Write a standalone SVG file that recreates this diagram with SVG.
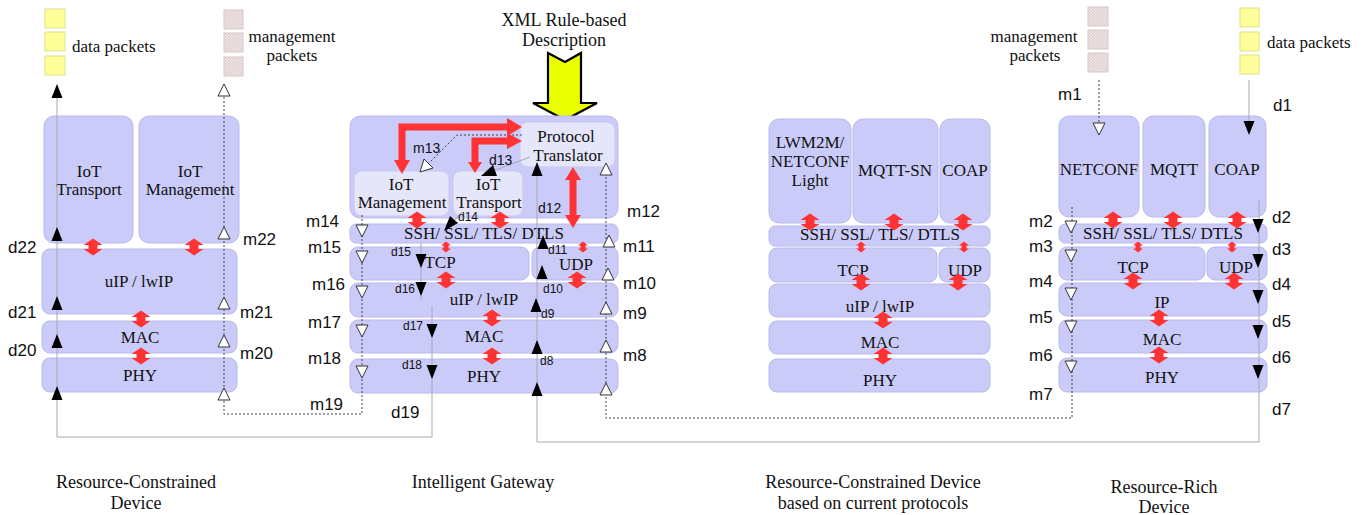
<svg xmlns="http://www.w3.org/2000/svg" width="1364" height="515" viewBox="0 0 1364 515">
<style>
.box{fill:#cbcbf9;stroke:#b9b9ec;stroke-width:1}
.lbox{fill:#e6e6fb;stroke:#c9c9ee;stroke-width:1}
.t{font-family:"Liberation Serif",serif;font-size:17px;fill:#111;text-anchor:middle}
.ts{font-family:"Liberation Serif",serif;font-size:17px;fill:#111;text-anchor:middle}
.cap{font-family:"Liberation Serif",serif;font-size:18px;fill:#111;text-anchor:middle}
.pk{font-family:"Liberation Serif",serif;font-size:17px;fill:#111}
.lb{font-family:"Liberation Sans",sans-serif;font-size:17px;fill:#111}
.sl{font-family:"Liberation Sans",sans-serif;font-size:12px;fill:#111}
.ml{font-family:"Liberation Sans",sans-serif;font-size:14px;fill:#111}
.gl{fill:none;stroke:#a8a8b4;stroke-width:1}
.dl{fill:none;stroke:#444;stroke-width:1;stroke-dasharray:2,2}
.red{fill:#ff3333}
.rl{fill:none;stroke:#ff3333;stroke-width:7}
.dp{fill:#ffff99;stroke:#e0e08a;stroke-width:1}
.mp{fill:url(#chk);stroke:#d8c8c8;stroke-width:1}
</style>
<defs>
<pattern id="chk" width="3" height="3" patternUnits="userSpaceOnUse">
<rect width="3" height="3" fill="#f3e9e9"/>
<rect width="1.5" height="1.5" fill="#ddcccc"/>
<rect x="1.5" y="1.5" width="1.5" height="1.5" fill="#ddcccc"/>
</pattern>
<path id="dbl" class="red" d="M0,-8.5 L9.5,-2 L4.5,-2 L4.5,2 L9.5,2 L0,8.5 L-9.5,2 L-4.5,2 L-4.5,-2 L-9.5,-2 Z"/>
<path id="dbs" class="red" d="M0,-5.5 L5,-1.5 L2.5,-1.5 L2.5,1.5 L5,1.5 L0,5.5 L-5,1.5 L-2.5,1.5 L-2.5,-1.5 L-5,-1.5 Z"/>
<path id="au" d="M0,0 L5.5,14 L-5.5,14 Z" fill="#000"/>
<path id="ad" d="M0,0 L5.5,-14 L-5.5,-14 Z" fill="#000"/>
<path id="hu" d="M0,0 L6,12 L-6,12 Z" fill="#fff" stroke="#333" stroke-width="1"/>
<path id="hd" d="M0,0 L6,-12 L-6,-12 Z" fill="#fff" stroke="#333" stroke-width="1"/>
</defs>
<rect width="1364" height="515" fill="#fff"/>

<!-- Packets -->
<g id="pkt-data-left">
<rect class="dp" x="45" y="9" width="20" height="19"/>
<rect class="dp" x="45" y="32" width="20" height="19"/>
<rect class="dp" x="45" y="56" width="20" height="19"/>
<text class="pk" x="72" y="52">data packets</text>
</g>
<g id="pkt-mgmt-left">
<rect class="mp" x="224" y="10" width="19" height="19"/>
<rect class="mp" x="224" y="33" width="19" height="19"/>
<rect class="mp" x="224" y="57" width="19" height="19"/>
<text class="pk" x="292" y="42" text-anchor="middle">management</text>
<text class="pk" x="292" y="61" text-anchor="middle">packets</text>
</g>
<g id="pkt-mgmt-right">
<rect class="mp" x="1088" y="7" width="20" height="19"/>
<rect class="mp" x="1088" y="30" width="20" height="19"/>
<rect class="mp" x="1088" y="53" width="20" height="19"/>
<text class="pk" x="1034" y="42" text-anchor="middle">management</text>
<text class="pk" x="1035" y="61" text-anchor="middle">packets</text>
</g>
<g id="pkt-data-right">
<rect class="dp" x="1240" y="8" width="19" height="19"/>
<rect class="dp" x="1240" y="32" width="19" height="19"/>
<rect class="dp" x="1240" y="55" width="19" height="19"/>
<text class="pk" x="1267" y="48">data packets</text>
</g>

<!-- XML description -->
<g id="xml">
<text class="cap" x="564" y="26" font-size="19">XML Rule-based</text>
<text class="cap" x="564" y="46" font-size="19">Description</text>
<polygon points="548,53 565,62 581,53 581,103 597,103 565,120 533,103 548,103" fill="#eaff00" stroke="#000" stroke-width="2.2" stroke-linejoin="miter"/>
</g>

<!-- Resource-Constrained Device -->
<g id="rc-device">
<rect class="box" x="44" y="116" width="89" height="127" rx="10"/>
<rect class="box" x="139" y="116" width="100" height="127" rx="10"/>
<rect class="box" x="42" y="249" width="195" height="65" rx="8"/>
<rect class="box" x="42" y="321" width="195" height="32" rx="8"/>
<rect class="box" x="42" y="358" width="195" height="34" rx="8"/>
<text class="ts" x="89" y="177">IoT</text>
<text class="ts" x="89" y="195">Transport</text>
<text class="ts" x="190" y="177">IoT</text>
<text class="ts" x="190" y="195">Management</text>
<text class="t" x="139" y="287">uIP / lwIP</text>
<text class="t" x="140" y="343">MAC</text>
<text class="t" x="140" y="381">PHY</text>
<text class="cap" x="136" y="488">Resource-Constrained</text>
<text class="cap" x="136" y="509">Device</text>
</g>

<!-- Intelligent Gateway -->
<g id="gateway">
<rect class="box" x="350" y="116" width="268" height="102" rx="10"/>
<rect class="lbox" x="520" y="122" width="95" height="45" rx="8"/>
<rect class="lbox" x="354" y="171" width="95" height="45" rx="8"/>
<rect class="lbox" x="453" y="171" width="70" height="45" rx="8"/>
<rect class="box" x="350" y="224" width="268" height="19" rx="6"/>
<rect class="box" x="350" y="247" width="179" height="33" rx="8"/>
<rect class="box" x="532" y="247" width="86" height="33" rx="8"/>
<rect class="box" x="350" y="283" width="268" height="34" rx="8"/>
<rect class="box" x="350" y="320" width="268" height="33" rx="8"/>
<rect class="box" x="350" y="359" width="268" height="34" rx="8"/>
<text class="ts" x="566" y="142">Protocol</text>
<text class="ts" x="568" y="161">Translator</text>
<text class="ts" x="401" y="190">IoT</text>
<text class="ts" x="402" y="208">Management</text>
<text class="ts" x="488" y="190">IoT</text>
<text class="ts" x="489" y="208">Transport</text>
<text class="ts" x="484" y="239">SSH/ SSL/ TLS/ DTLS</text>
<text class="t" x="440" y="268">TCP</text>
<text class="t" x="576" y="270">UDP</text>
<text class="t" x="484" y="305">uIP / lwIP</text>
<text class="t" x="484" y="342">MAC</text>
<text class="t" x="484" y="382">PHY</text>
<text class="cap" x="483" y="488">Intelligent Gateway</text>
</g>

<!-- Resource-Constrained Device based on current protocols -->
<g id="rc-device-current">
<rect class="box" x="769" y="119" width="82" height="104" rx="10"/>
<rect class="box" x="853" y="119" width="85" height="104" rx="10"/>
<rect class="box" x="940" y="119" width="50" height="104" rx="10"/>
<rect class="box" x="769" y="226" width="221" height="20" rx="6"/>
<rect class="box" x="769" y="248" width="168" height="34" rx="8"/>
<rect class="box" x="939" y="248" width="51" height="34" rx="8"/>
<rect class="box" x="769" y="284" width="221" height="33" rx="8"/>
<rect class="box" x="769" y="321" width="221" height="33" rx="8"/>
<rect class="box" x="769" y="359" width="221" height="33" rx="8"/>
<text class="t" x="810" y="148">LWM2M/</text>
<text class="t" x="810" y="167">NETCONF</text>
<text class="t" x="810" y="186">Light</text>
<text class="t" x="895" y="176">MQTT-SN</text>
<text class="t" x="965" y="176">COAP</text>
<text class="ts" x="880" y="240">SSH/ SSL/ TLS/ DTLS</text>
<text class="t" x="853" y="276">TCP</text>
<text class="t" x="965" y="276">UDP</text>
<text class="t" x="880" y="312">uIP / lwIP</text>
<text class="t" x="880" y="348">MAC</text>
<text class="t" x="880" y="386">PHY</text>
<text class="cap" x="873" y="488">Resource-Constrained Device</text>
<text class="cap" x="873" y="509">based on current protocols</text>
</g>

<!-- Resource-Rich Device -->
<g id="rr-device">
<rect class="box" x="1059" y="116" width="80" height="101" rx="10"/>
<rect class="box" x="1143" y="116" width="62" height="101" rx="10"/>
<rect class="box" x="1209" y="116" width="57" height="101" rx="10"/>
<rect class="box" x="1059" y="224" width="208" height="19" rx="6"/>
<rect class="box" x="1059" y="247" width="146" height="33" rx="8"/>
<rect class="box" x="1207" y="247" width="60" height="33" rx="8"/>
<rect class="box" x="1059" y="283" width="208" height="33" rx="8"/>
<rect class="box" x="1059" y="320" width="208" height="33" rx="8"/>
<rect class="box" x="1059" y="358" width="208" height="34" rx="8"/>
<text class="t" x="1099" y="175">NETCONF</text>
<text class="t" x="1174" y="175">MQTT</text>
<text class="t" x="1237" y="175">COAP</text>
<text class="ts" x="1163" y="239">SSH/ SSL/ TLS/ DTLS</text>
<text class="t" x="1133" y="273">TCP</text>
<text class="t" x="1236" y="273">UDP</text>
<text class="t" x="1162" y="308">IP</text>
<text class="t" x="1162" y="345">MAC</text>
<text class="t" x="1162" y="383">PHY</text>
<text class="cap" x="1164" y="493">Resource-Rich</text>
<text class="cap" x="1164" y="513">Device</text>
</g>

<!-- Connectors -->
<g id="connectors">
<!-- data path lines -->
<polyline class="gl" points="421,243 421,300"/>
<polyline class="gl" points="432,306 432,437 57,437 57,98"/>
<polyline class="gl" points="1249,80 1249,122"/>
<polyline class="gl" points="1259,200 1259,442 537,442 537,175"/>
<line class="gl" x1="530" y1="157" x2="490" y2="172"/>
<line class="gl" x1="462" y1="212" x2="450" y2="225"/>
<!-- management path lines -->
<polyline class="dl" points="362,215 362,414 224,414 224,95"/>
<polyline class="dl" points="1072,207 1072,418 606,418 606,175"/>
<polyline class="dl" points="1099,80 1099,124"/>
<polyline class="dl" points="522,135 457,135 426,166"/>

<!-- red translator arrows -->
<polyline class="rl" points="402,161 402,127 509,127" stroke-width="8"/>
<polygon class="red" points="394,160 410,160 402,174"/>
<polygon class="red" points="507,118 507,136 522,127"/>
<polyline class="rl" points="475,164 475,141 509,141" stroke-width="6.5"/>
<polygon class="red" points="468,162 482,162 475,173"/>
<polygon class="red" points="507,133 507,149 522,141"/>
<polygon class="red" points="573,167 581,180 576.5,180 576.5,215 581,215 573,228 565,215 569.5,215 569.5,180 565,180"/>

<!-- red layer arrows -->
<use href="#dbl" x="93" y="247"/>
<use href="#dbl" x="194" y="247"/>
<use href="#dbl" x="141" y="319"/>
<use href="#dbl" x="141" y="356"/>
<use href="#dbl" x="417" y="220"/>
<use href="#dbl" x="500" y="220"/>
<use href="#dbs" x="446" y="247"/>
<use href="#dbs" x="583" y="247"/>
<use href="#dbl" x="446" y="280"/>
<use href="#dbl" x="577" y="280"/>
<use href="#dbl" x="492" y="318"/>
<use href="#dbl" x="492" y="356"/>
<use href="#dbl" x="810" y="222"/>
<use href="#dbl" x="894" y="222"/>
<use href="#dbl" x="963" y="222"/>
<use href="#dbs" x="861" y="247"/>
<use href="#dbs" x="964" y="247"/>
<use href="#dbl" x="861" y="282"/>
<use href="#dbl" x="958" y="282"/>
<use href="#dbl" x="883" y="320"/>
<use href="#dbl" x="883" y="356"/>
<use href="#dbl" x="1113" y="220"/>
<use href="#dbl" x="1173" y="220"/>
<use href="#dbl" x="1237" y="220"/>
<use href="#dbs" x="1138" y="247"/>
<use href="#dbs" x="1232" y="247"/>
<use href="#dbl" x="1133" y="281"/>
<use href="#dbl" x="1234" y="281"/>
<use href="#dbl" x="1159" y="318"/>
<use href="#dbl" x="1159" y="355"/>

<!-- left device arrowheads -->
<use href="#au" x="57" y="84"/>
<use href="#au" x="57" y="227"/>
<use href="#au" x="57" y="296"/>
<use href="#au" x="57" y="334"/>
<use href="#au" x="57" y="386"/>
<use href="#hu" x="224" y="84"/>
<use href="#hu" x="224" y="227"/>
<use href="#hu" x="224" y="297"/>
<use href="#hu" x="224" y="335"/>
<use href="#hu" x="224" y="388"/>

<!-- gateway arrowheads -->
<polygon points="481,176 497,176 493,165" fill="#000"/>
<polygon points="444,231 458,223 450,216" fill="#000"/>
<polygon points="420,172 433,168 424,159" fill="#fff" stroke="#333" stroke-width="1"/>
<use href="#ad" x="421" y="268"/>
<use href="#ad" x="421" y="296"/>
<use href="#ad" x="432" y="338"/>
<use href="#ad" x="432" y="379"/>
<use href="#au" x="537" y="162"/>
<use href="#au" x="543" y="235"/>
<use href="#au" x="542" y="265"/>
<use href="#au" x="536" y="298"/>
<use href="#au" x="537" y="340"/>
<use href="#au" x="537" y="382"/>
<use href="#hd" x="362" y="237"/>
<use href="#hd" x="362" y="263"/>
<use href="#hd" x="362" y="298"/>
<use href="#hd" x="362" y="337"/>
<use href="#hd" x="362" y="378"/>
<use href="#hu" x="606" y="163"/>
<use href="#hu" x="609" y="235"/>
<use href="#hu" x="608" y="268"/>
<use href="#hu" x="606" y="302"/>
<use href="#hu" x="606" y="340"/>
<use href="#hu" x="606" y="383"/>

<!-- right device arrowheads -->
<use href="#ad" x="1249" y="135"/>
<use href="#ad" x="1258" y="233"/>
<use href="#ad" x="1258" y="268"/>
<use href="#ad" x="1258" y="304"/>
<use href="#ad" x="1258" y="339"/>
<use href="#ad" x="1258" y="379"/>
<use href="#hd" x="1099" y="135"/>
<use href="#hd" x="1071" y="233"/>
<use href="#hd" x="1071" y="262"/>
<use href="#hd" x="1071" y="300"/>
<use href="#hd" x="1071" y="333"/>
<use href="#hd" x="1071" y="373"/>

<!-- connector labels -->
<text class="lb" x="8" y="253">d22</text>
<text class="lb" x="8" y="318">d21</text>
<text class="lb" x="8" y="356">d20</text>
<text class="lb" x="243" y="245">m22</text>
<text class="lb" x="240" y="318">m21</text>
<text class="lb" x="240" y="359">m20</text>
<text class="lb" x="310" y="410">m19</text>
<text class="lb" x="391" y="418">d19</text>
<text class="lb" x="306" y="227">m14</text>
<text class="lb" x="308" y="253">m15</text>
<text class="lb" x="312" y="290">m16</text>
<text class="lb" x="308" y="328">m17</text>
<text class="lb" x="308" y="364">m18</text>
<text class="lb" x="627" y="217">m12</text>
<text class="lb" x="623" y="252">m11</text>
<text class="lb" x="623" y="289">m10</text>
<text class="lb" x="623" y="319">m9</text>
<text class="lb" x="623" y="361">m8</text>
<text class="ml" x="413" y="153">m13</text>
<text class="ml" x="489" y="165">d13</text>
<text class="sl" x="458" y="221" font-size="11">d14</text>
<text class="sl" x="391" y="256">d15</text>
<text class="sl" x="395" y="293">d16</text>
<text class="sl" x="403" y="330">d17</text>
<text class="sl" x="402" y="369">d18</text>
<text class="ml" x="538" y="213">d12</text>
<text class="sl" x="548" y="254" font-size="11">d11</text>
<text class="sl" x="543" y="293" font-size="13">d10</text>
<text class="sl" x="541" y="318" font-size="13">d9</text>
<text class="sl" x="540" y="365" font-size="13">d8</text>
<text class="lb" x="1058" y="100">m1</text>
<text class="lb" x="1029" y="227">m2</text>
<text class="lb" x="1029" y="252">m3</text>
<text class="lb" x="1029" y="287">m4</text>
<text class="lb" x="1029" y="323">m5</text>
<text class="lb" x="1029" y="361">m6</text>
<text class="lb" x="1029" y="400">m7</text>
<text class="lb" x="1273" y="111">d1</text>
<text class="lb" x="1272" y="223">d2</text>
<text class="lb" x="1272" y="255">d3</text>
<text class="lb" x="1272" y="290">d4</text>
<text class="lb" x="1272" y="327">d5</text>
<text class="lb" x="1272" y="363">d6</text>
<text class="lb" x="1272" y="415">d7</text>
</g>
</svg>
